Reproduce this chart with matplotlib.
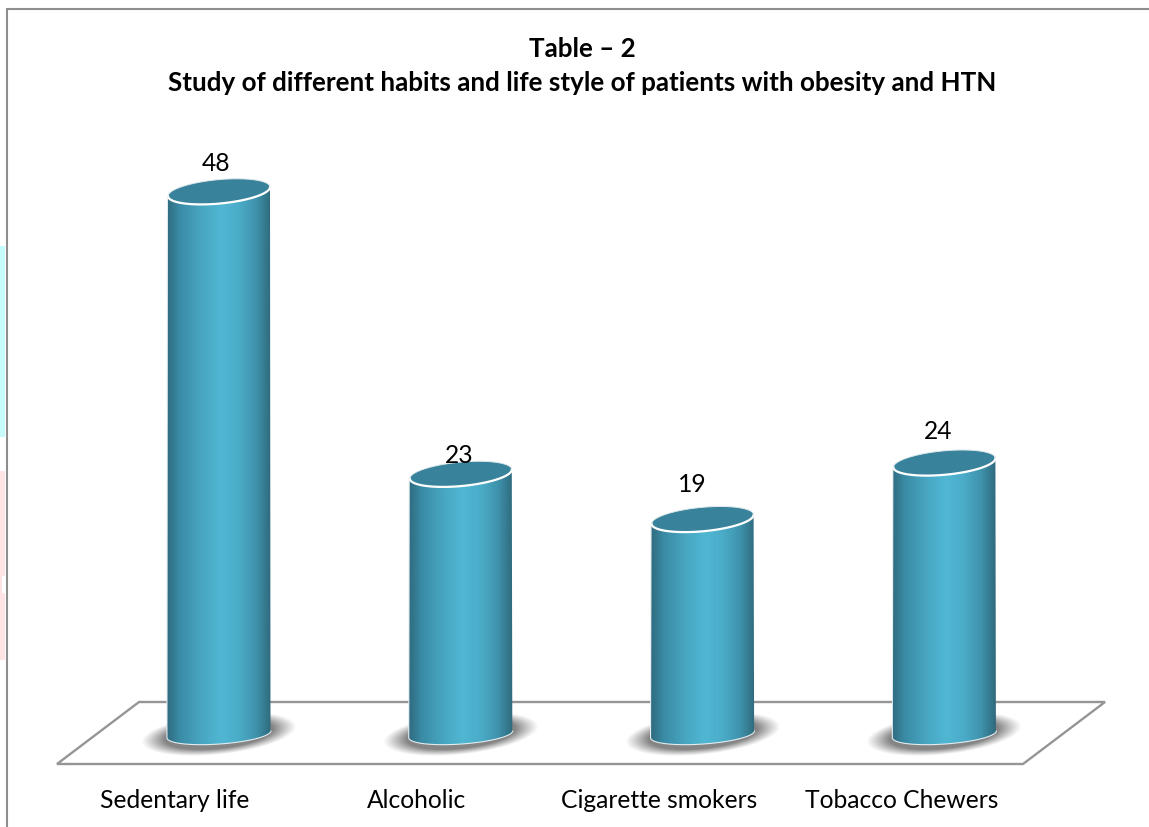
"""
Habits and life style of patients with obesity and HTN, drawn as 3D style cylinders
"""

import numpy as np
import matplotlib
matplotlib.use('Agg')
import matplotlib.pyplot as plt
from matplotlib.colors import LinearSegmentedColormap
from matplotlib.patches import PathPatch, Polygon, Rectangle
from matplotlib.path import Path

habitos = ['Sedentary life', 'Alcoholic', 'Cigarette smokers', 'Tobacco Chewers']
valores = [48, 23, 19, 24]
titulo = 'Table – 2\nStudy of different habits and life style of patients with obesity and HTN'

# Escala em pixels
LARG, ALT = 1149, 827
X0, PASSO = 219.0, 241.8
Y0, ESCALA = 734.0, 11.3

# Forma das elipses do topo e da base: semieixo, inclinação, altura
TOPO_A, TOPO_S, TOPO_B = 51, -4.5, 12
BASE_A, BASE_S, BASE_B = 51.5, -3.5, 9.5

plt.rcParams['font.family'] = ['Lato', 'DejaVu Sans']

fig = plt.figure(figsize=(LARG / 100, ALT / 100), dpi=100)
ax = fig.add_axes([0, 0, 1, 1])
ax.set_axis_off()
limx = ((0 - X0) / PASSO, (LARG - X0) / PASSO)
limy = ((Y0 - ALT) / ESCALA, Y0 / ESCALA)


def dados(px, py):
    """Converte pixels da figura para unidades dos eixos"""
    return (np.asarray(px, dtype=float) - X0) / PASSO, (Y0 - np.asarray(py, dtype=float)) / ESCALA


def elipse(cx, cy, a, inclinacao, b, t):
    """Pontos de uma elipse inclinada, em pixels"""
    return cx + a * np.cos(t), cy + inclinacao * np.cos(t) + b * np.sin(t)


# Faixas coloridas na margem esquerda
for y1, y2, cor in [(246, 437, '#c6fbfb'), (471, 660, '#fde3e3')]:
    xa, ya = dados(0, y2)
    xb, yb = dados(5, y1)
    ax.add_patch(Rectangle((xa, ya), xb - xa, yb - ya, color=cor, lw=0, zorder=1))
xa, ya = dados(1.5, 593)
xb, yb = dados(5, 576)
ax.add_patch(Rectangle((xa, ya), xb - xa, yb - ya, color='white', lw=0, zorder=1))

# Moldura do gráfico
mx, my = dados([6.5, 6.5, LARG], [ALT, 9.5, 9.5])
ax.plot(mx, my, color='#8e8e8e', lw=1.5, zorder=2, solid_joinstyle='miter')

# Plano do chão
px, py = dados([57, 139, 1105, 1023], [764, 702, 702, 764])
ax.add_patch(Polygon(np.column_stack([px, py]), closed=True, facecolor='white',
                     edgecolor='#959595', lw=1.7, zorder=3, joinstyle='miter'))

gradiente = LinearSegmentedColormap.from_list('cilindro', [
    (0.00, '#2f6b80'), (0.12, '#3a8ba5'), (0.35, '#49a8c4'), (0.52, '#50b7d3'),
    (0.70, '#4aabc7'), (0.86, '#3f92ac'), (1.00, '#2f6a7c')])

# Sombra suave na base
gx, gy = np.meshgrid(np.linspace(-85, 85, 170), np.linspace(-30, 30, 60))
u = gx / 78
v = (gy + gx * 0.1) / 21
dist = np.sqrt(u ** 2 + v ** 2)
sombra = np.zeros(gx.shape + (4,))
sombra[..., :3] = 0.5
sombra[..., 3] = np.clip((1 - dist) / 0.3, 0, 1) ** 1.1 * 0.95

t_frente = np.linspace(0, np.pi, 60)
t_tras = np.linspace(np.pi, 2 * np.pi, 60)

for i, (valor, habito) in enumerate(zip(valores, habitos)):
    cx = X0 + i * PASSO
    topo = Y0 - valor * ESCALA

    # Sombra
    sx0, sy0 = dados(cx - 85, Y0 + 30)
    sx1, sy1 = dados(cx + 85, Y0 - 30)
    ax.imshow(sombra, extent=(sx0, sx1, sy0, sy1), origin='upper', aspect='auto',
              interpolation='bilinear', zorder=4)

    # Corpo do cilindro
    bx, by = elipse(cx, Y0, BASE_A, BASE_S, BASE_B, t_frente)
    corpo_x, corpo_y = dados(np.r_[bx, cx - TOPO_A, cx + TOPO_A],
                             np.r_[by, topo - TOPO_S, topo + TOPO_S])
    corpo = Path(np.column_stack([corpo_x, corpo_y]))
    borda = PathPatch(corpo, facecolor='none', edgecolor='#e3ecef', lw=1.6, zorder=5)
    ax.add_patch(borda)
    clipe = PathPatch(corpo, transform=ax.transData, facecolor='none', edgecolor='none')
    ax.add_patch(clipe)
    ix0, iy0 = dados(cx - 52, Y0 + 12)
    ix1, iy1 = dados(cx + 52, topo - 8)
    img = ax.imshow(np.linspace(0, 1, 256).reshape(1, -1), cmap=gradiente, aspect='auto',
                    extent=(ix0, ix1, iy0, iy1), interpolation='bilinear', zorder=6)
    img.set_clip_path(clipe)

    # Tampa superior
    tx, ty = elipse(cx, topo, TOPO_A, TOPO_S, TOPO_B, np.linspace(0, 2 * np.pi, 120))
    tdx, tdy = dados(tx, ty)
    ax.fill(tdx, tdy, color='#39829b', lw=0, zorder=7)
    ax.plot(*dados(*elipse(cx, topo, TOPO_A, TOPO_S, TOPO_B, t_frente)),
            color='white', lw=1.6, zorder=8)
    ax.plot(*dados(*elipse(cx, topo, TOPO_A, TOPO_S, TOPO_B, t_tras)),
            color='#dfe9ec', lw=0.7, zorder=8)

    # Rótulo da categoria
    ax.text(i - (44 if i < 2 else 43) / PASSO, (Y0 - 800) / ESCALA, habito, ha='center',
            va='center', fontsize=17.7, color='black', zorder=9)

# Rótulos de valor, com o ajuste feito à mão de cada um
ajuste_x = [-3, -2, -10, -6]
ajuste_y = [28, 19, 35, 31]
for i, valor in enumerate(valores):
    ax.text(i + ajuste_x[i] / PASSO, valor + ajuste_y[i] / ESCALA, str(valor), ha='center',
            va='center', fontsize=17.7, color='black', zorder=9)

ax.set_xlim(limx)
ax.set_ylim(limy)

fig.text(582 / LARG, 1 - 66 / ALT, titulo, ha='center', va='center', fontsize=18.75,
         fontweight='bold', color='black', linespacing=1.5)

fig.savefig('out.png', dpi=100, facecolor='white')
